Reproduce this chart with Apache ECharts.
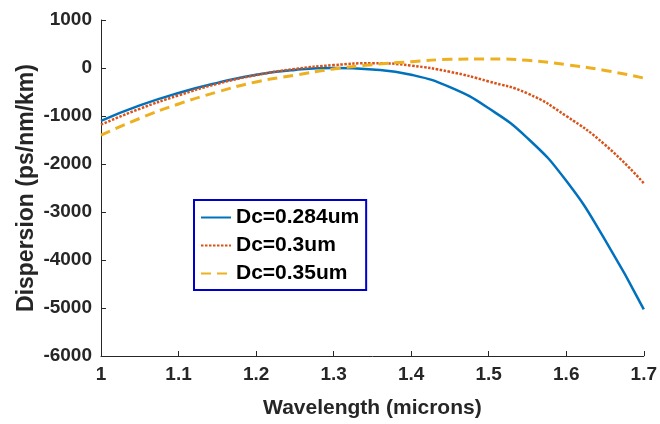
<!DOCTYPE html>
<html>
<head>
<meta charset="utf-8">
<script src="https://cdn.jsdelivr.net/npm/echarts@6/dist/echarts.min.js"></script>
<style>
	html, body { margin: 0; padding: 0; background: #fff; }
	#chart { width: 660px; height: 424px; }
</style>
</head>
<body>
<div id="chart"></div>
<script>
let wavelength = [1.0, 1.05, 1.1, 1.15, 1.2, 1.25, 1.3, 1.35, 1.4, 1.45, 1.5, 1.55, 1.6, 1.65, 1.7];
let dc284 = [-1100, -780, -520, -310, -140, -40, 0, -30, -140, -400, -840, -1460, -2350, -3580, -5030];
let dc300 = [-1180, -850, -570, -330, -150, -20, 60, 100, 50, -80, -280, -530, -1000, -1600, -2400];
let dc350 = [-1400, -1050, -750, -500, -290, -150, -20, 70, 130, 180, 190, 160, 70, -50, -210];
let names = ["Dc=0.284um", "Dc=0.3um", "Dc=0.35um"];

let pairs = (ys) => wavelength.map((x, i) => [x, ys[i]]);

let myChart = echarts.init(document.getElementById("chart"));
let font = "Liberation Sans";
let axisColor = "#262626";

let option = {
	animation: false,
	color: ["#0072BD", "#D95319", "#EDB120"],
	grid: {
		left: 101,
		right: 11,
		top: 20,
		bottom: 66,
	},
	legend: {
		orient: "vertical",
		left: 194,
		top: 200,
		itemWidth: 30,
		itemHeight: 14,
		itemGap: 7,
		padding: [7, 7, 6, 6],
		borderColor: "#0000cc",
		borderWidth: 2,
		backgroundColor: "#fff",
		itemStyle: { opacity: 0 },
		textStyle: {
			fontFamily: font,
			fontWeight: "bold",
			fontSize: 21,
			color: "#000",
		},
		data: names,
	},
	xAxis: {
		type: "value",
		min: 1,
		max: 1.7,
		interval: 0.1,
		name: "Wavelength (microns)",
		nameLocation: "middle",
		nameGap: 42,
		nameMoveOverlap: false,
		nameTextStyle: { fontFamily: font, fontWeight: "bold", fontSize: 21, color: axisColor },
		axisLine: { onZero: false, lineStyle: { color: axisColor, width: 1 } },
		axisTick: { inside: true, length: 5, lineStyle: { color: axisColor } },
		axisLabel: {
			fontFamily: font, fontWeight: "bold", fontSize: 19, color: axisColor, margin: 9,
			formatter: (v) => String(Math.round(v * 10) / 10),
		},
		splitLine: { show: false },
	},
	yAxis: {
		type: "value",
		min: -6000,
		max: 1000,
		interval: 1000,
		name: "Dispersion (ps/nm/km)",
		nameLocation: "middle",
		nameGap: 63,
		nameMoveOverlap: false,
		nameTextStyle: { fontFamily: font, fontWeight: "bold", fontSize: 23, color: axisColor },
		axisLine: { show: true, onZero: false, lineStyle: { color: axisColor, width: 1 } },
		axisTick: { show: true, inside: true, length: 5, lineStyle: { color: axisColor } },
		axisLabel: {
			fontFamily: font, fontWeight: "bold", fontSize: 19, color: axisColor, margin: 9,
			formatter: (v) => String(v),
		},
		splitLine: { show: false },
	},
	series: [
		{
			name: names[0],
			type: "line",
			symbol: "none",
			smooth: 0.5,
			lineStyle: { width: 2.5, type: "solid" },
			data: pairs(dc284),
		},
		{
			name: names[1],
			type: "line",
			symbol: "none",
			smooth: 0.5,
			lineStyle: { width: 2.5, type: [2.5, 1.5] },
			data: pairs(dc300),
		},
		{
			name: names[2],
			type: "line",
			symbol: "none",
			smooth: 0.5,
			lineStyle: { width: 3, type: [10, 6] },
			data: pairs(dc350),
		},
	],
};

myChart.setOption(option);
</script>
</body>
</html>
